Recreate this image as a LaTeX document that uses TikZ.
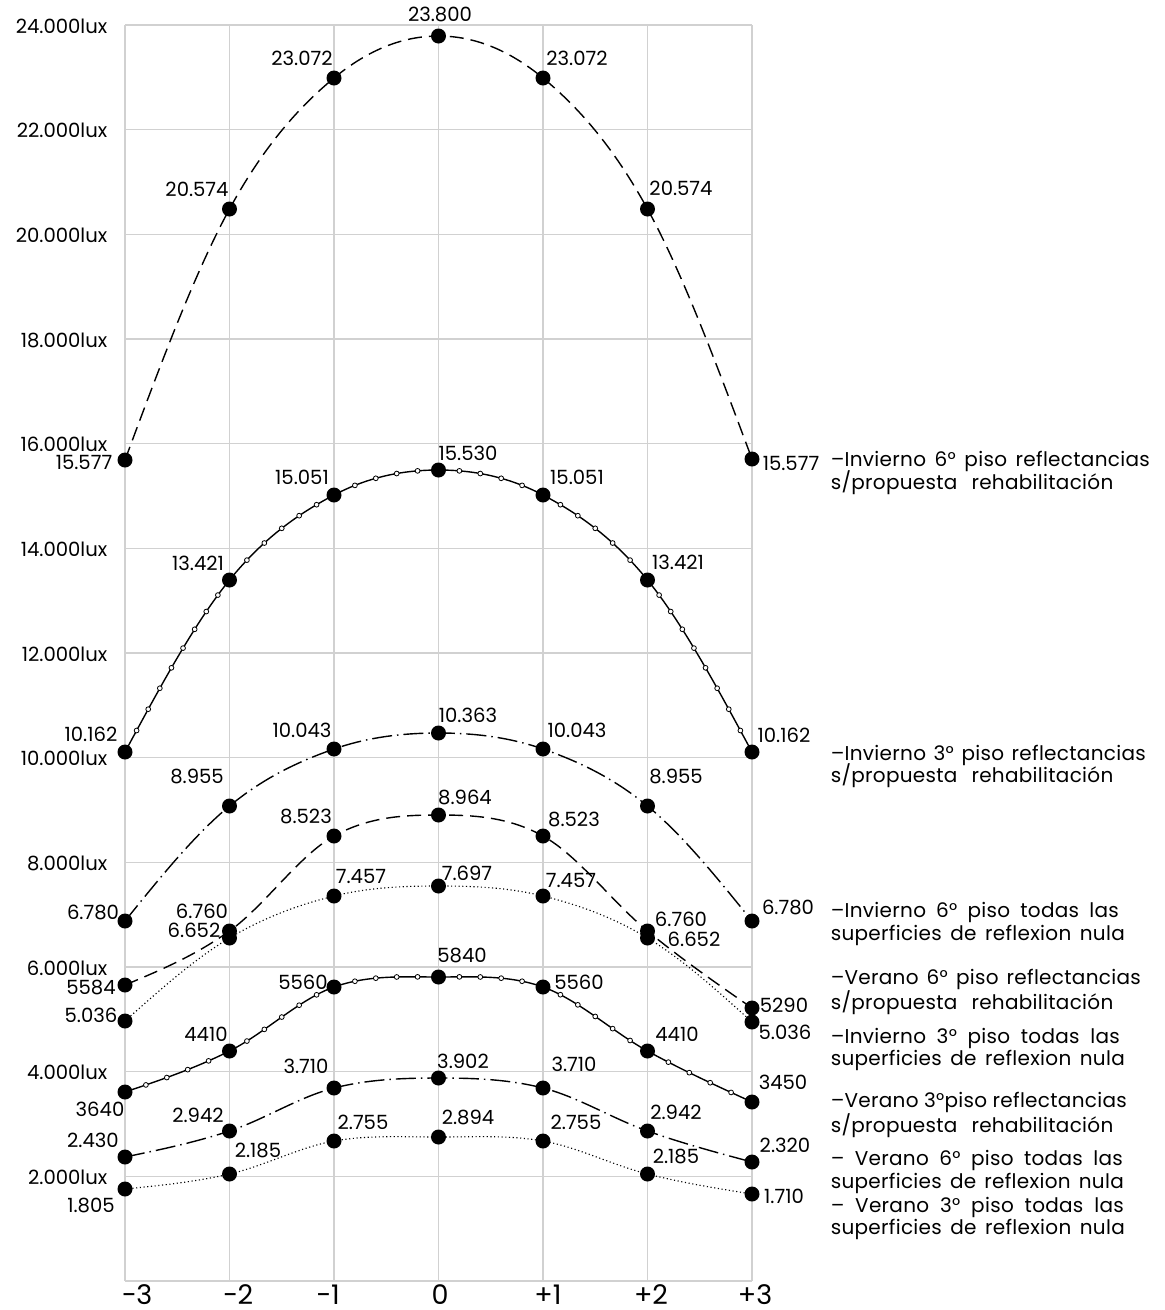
\documentclass[tikz,border=0pt]{standalone}
\usepackage{fontspec}
\setmainfont{Poppins}
\newfontfamily\legfont[LetterSpace=1.5]{Poppins}
\usetikzlibrary{calc}
\newcommand{\tickseg}[4]{%
  \path (#1#2) .. controls (c#1#2-1) and (c#1#2-2) .. (#1#3)
    \foreach \k [evaluate=\k as \pp using \k/(#4+1)] in {1,...,#4} {node[tick,pos=\pp] (t#1#2-\k) {}};}
\newcommand{\spro}{s/propuesta\hspace{3.5pt}rehabilitación}
\begin{document}
\begin{tikzpicture}[x=0.25pt,y=-0.25pt,
  gridln/.style={draw=black!18, line width=0.35pt},
  lbl/.style={font=\fontsize{4.9}{4.9}\selectfont, inner sep=0pt, anchor=center},
  ylbl/.style={font=\fontsize{4.9}{4.9}\selectfont, inner sep=0pt, anchor=east},
  axl/.style={font=\fontsize{6.75}{6.75}\selectfont, inner sep=0pt, anchor=center},
  leg/.style={font=\legfont\fontsize{5}{5}\selectfont, inner sep=0pt, anchor=base west},
  bigdot/.style={circle, fill=black, inner sep=0pt, minimum size=3.75pt},
  tick/.style={circle, draw=black, fill=white, line width=0.2pt, inner sep=0pt, minimum size=1.2pt},
  crv/.style={line width=0.35pt},
  solidc/.style={crv},
  longdash/.style={crv, dash pattern=on 3.5pt off 1.75pt},
  dashdot/.style={crv, dash pattern=on 5pt off 1.25pt on 0.375pt off 1.25pt},
  finedot/.style={line width=0.28pt, dash pattern=on 0.28pt off 0.65pt},
]
\fill[white] (0,0) rectangle (1165,1310);
\useasboundingbox (0,0) rectangle (1165,1310);

% grid
\foreach \k in {0,...,6} \draw[gridln] (125+104.5*\k,25) -- (125+104.5*\k,1281);
\foreach \j in {0,...,12} \draw[gridln] (125,25+104.667*\j) -- (752,25+104.667*\j);

% y-axis labels
\foreach \t [count=\j from 0] in {24.000lux,22.000lux,20.000lux,18.000lux,16.000lux,14.000lux,12.000lux,10.000lux,8.000lux,6.000lux,4.000lux,2.000lux}
  \node[ylbl] (yl\j) at (108,26+104.667*\j) {\t};

% x-axis labels
\node[axl] (xm3) at (137,1295) {−3};
\node[axl] (xm2) at (238,1295) {−2};
\node[axl] (xm1) at (328,1295) {−1};
\node[axl] (x0) at (440,1295) {0};
\node[axl] (xp1) at (548,1295) {+1};
\node[axl] (xp2) at (651,1295) {+2};
\node[axl] (xp3) at (755,1295) {+3};

% data coordinates and spline control points
\foreach \s/\ys in {A/{460,209,78,36,78,209,459},
                    B/{752,580,495,470,495,580,752},
                    C/{921,806,749,733,749,806,921},
                    D/{985,931,836,815,836,931,1008},
                    E/{1021,938,896,886,896,938,1022},
                    F/{1092,1051,987,977,987,1051,1102},
                    G/{1157,1131,1088,1078,1088,1131,1162},
                    H/{1189,1174,1141,1137,1141,1174,1194}}{
  \foreach \yy [count=\i from 0] in \ys {\coordinate (\s\i) at (125+104.5*\i,\yy);}
  \coordinate (\s m) at ($2.5*(\s0)-2*(\s1)+0.5*(\s2)$);
  \coordinate (\s p) at ($2.5*(\s6)-2*(\s5)+0.5*(\s4)$);
  \foreach \i/\p/\n/\nn in {0/m/1/2,1/0/2/3,2/1/3/4,3/2/4/5,4/3/5/6,5/4/6/p}{
    \coordinate (c\s\i-1) at ($(\s\i)+0.16667*(\s\n)-0.16667*(\s\p)$);
    \coordinate (c\s\i-2) at ($(\s\n)-0.16667*(\s\nn)+0.16667*(\s\i)$);
  }
}

% curves
\foreach \s/\st in {A/longdash,B/solidc,C/dashdot,D/longdash,E/finedot,F/solidc,G/dashdot,H/finedot}
  \draw[\st] (\s0) .. controls (c\s0-1) and (c\s0-2) .. (\s1)
                   .. controls (c\s1-1) and (c\s1-2) .. (\s2)
                   .. controls (c\s2-1) and (c\s2-2) .. (\s3)
                   .. controls (c\s3-1) and (c\s3-2) .. (\s4)
                   .. controls (c\s4-1) and (c\s4-2) .. (\s5)
                   .. controls (c\s5-1) and (c\s5-2) .. (\s6);

% small circle markers
\tickseg{B}{0}{1}{8}
\tickseg{B}{1}{2}{5}
\tickseg{B}{2}{3}{4}
\tickseg{B}{3}{4}{4}
\tickseg{B}{4}{5}{5}
\tickseg{B}{5}{6}{8}
\tickseg{F}{0}{1}{4}
\tickseg{F}{1}{2}{5}
\tickseg{F}{2}{3}{4}
\tickseg{F}{3}{4}{4}
\tickseg{F}{4}{5}{5}
\tickseg{F}{5}{6}{4}

% dots
\foreach \s in {A,B,C,D,E,F,G,H}
  \foreach \i in {0,...,6} \node[bigdot] (\s\i d) at (\s\i) {};

% value labels
\node[lbl] (A0l) at (84,462) {15.577};
\node[lbl] (A1l) at (197,189) {20.574};
\node[lbl] (A2l) at (302,58) {23.072};
\node[lbl] (A3l) at (440,14) {23.800};
\node[lbl] (A4l) at (577,58) {23.072};
\node[lbl] (A5l) at (681,188) {20.574};
\node[lbl] (A6l) at (791,463) {15.577};

\node[lbl] (B0l) at (91,734) {10.162};
\node[lbl] (B1l) at (198,563) {13.421};
\node[lbl] (B2l) at (302,477) {15.051};
\node[lbl] (B3l) at (468,453) {15.530};
\node[lbl] (B4l) at (577,477) {15.051};
\node[lbl] (B5l) at (678,562) {13.421};
\node[lbl] (B6l) at (784,735) {10.162};

\node[lbl] (C0l) at (93,912) {6.780};
\node[lbl] (C1l) at (197,776) {8.955};
\node[lbl] (C2l) at (302,730) {10.043};
\node[lbl] (C3l) at (468,715) {10.363};
\node[lbl] (C4l) at (577,730) {10.043};
\node[lbl] (C5l) at (676,776) {8.955};
\node[lbl] (C6l) at (788,907) {6.780};

\node[lbl] (D0l) at (91,987) {5584};
\node[lbl] (D1l) at (202,911) {6.760};
\node[lbl] (D2l) at (306,816) {8.523};
\node[lbl] (D3l) at (465,797) {8.964};
\node[lbl] (D4l) at (574,819) {8.523};
\node[lbl] (D5l) at (681,919) {6.760};
\node[lbl] (D6l) at (784,1005) {5290};

\node[lbl] (E0l) at (91,1015) {5.036};
\node[lbl] (E1l) at (194,930) {6.652};
\node[lbl] (E2l) at (361,876) {7.457};
\node[lbl] (E3l) at (467,873) {7.697};
\node[lbl] (E4l) at (571,880) {7.457};
\node[lbl] (E5l) at (694,939) {6.652};
\node[lbl] (E6l) at (785,1032) {5.036};

\node[lbl] (F0l) at (100,1109) {3640};
\node[lbl] (F1l) at (206,1034) {4410};
\node[lbl] (F2l) at (303,982) {5560};
\node[lbl] (F3l) at (462,955) {5840};
\node[lbl] (F4l) at (579,982) {5560};
\node[lbl] (F5l) at (677,1034) {4410};
\node[lbl] (F6l) at (783,1082) {3450};

\node[lbl] (G0l) at (93,1140) {2.430};
\node[lbl] (G1l) at (198,1115) {2.942};
\node[lbl] (G2l) at (306,1066) {3.710};
\node[lbl] (G3l) at (463,1061) {3.902};
\node[lbl] (G4l) at (574,1064) {3.710};
\node[lbl] (G5l) at (676,1112) {2.942};
\node[lbl] (G6l) at (785,1145) {2.320};

\node[lbl] (H0l) at (91,1205) {1.805};
\node[lbl] (H1l) at (258,1150) {2.185};
\node[lbl] (H2l) at (363,1122) {2.755};
\node[lbl] (H3l) at (468,1117) {2.894};
\node[lbl] (H4l) at (576,1122) {2.755};
\node[lbl] (H5l) at (676,1156) {2.185};
\node[lbl] (H6l) at (784,1196) {1.710};

% legend
\node[leg] (L1a) at (830,466) {\makebox[79.75pt][s]{–Invierno 6° piso reflectancias}};
\node[leg] (L1b) at (830,489) {\spro};
\node[leg] (L2a) at (830,760) {\makebox[78.75pt][s]{–Invierno 3° piso reflectancias}};
\node[leg] (L2b) at (830,782) {\spro};
\node[leg] (L3a) at (830,917) {\makebox[72pt][s]{–Invierno 6° piso todas las}};
\node[leg] (L3b) at (830,940) {\makebox[73.5pt][s]{superficies de reflexion nula}};
\node[leg] (L4a) at (830,984) {\makebox[77.5pt][s]{–Verano 6° piso reflectancias}};
\node[leg] (L4b) at (830,1009) {\spro};
\node[leg] (L5a) at (830,1043) {\makebox[72.25pt][s]{–Invierno 3° piso todas las}};
\node[leg] (L5b) at (830,1065) {\makebox[73.5pt][s]{superficies de reflexion nula}};
\node[leg] (L6a) at (830,1107) {\makebox[74pt][s]{–Verano 3°piso reflectancias}};
\node[leg] (L6b) at (830,1132) {\spro};
\node[leg] (L7a) at (830,1165) {\makebox[73pt][s]{– Verano 6° piso todas las}};
\node[leg] (L7b) at (830,1188) {\makebox[73.25pt][s]{superficies de reflexion nula}};
\node[leg] (L8a) at (830,1212) {\makebox[73.25pt][s]{– Verano 3° piso todas las}};
\node[leg] (L8b) at (830,1234) {\makebox[73.5pt][s]{superficies de reflexion nula}};
\end{tikzpicture}
\end{document}
